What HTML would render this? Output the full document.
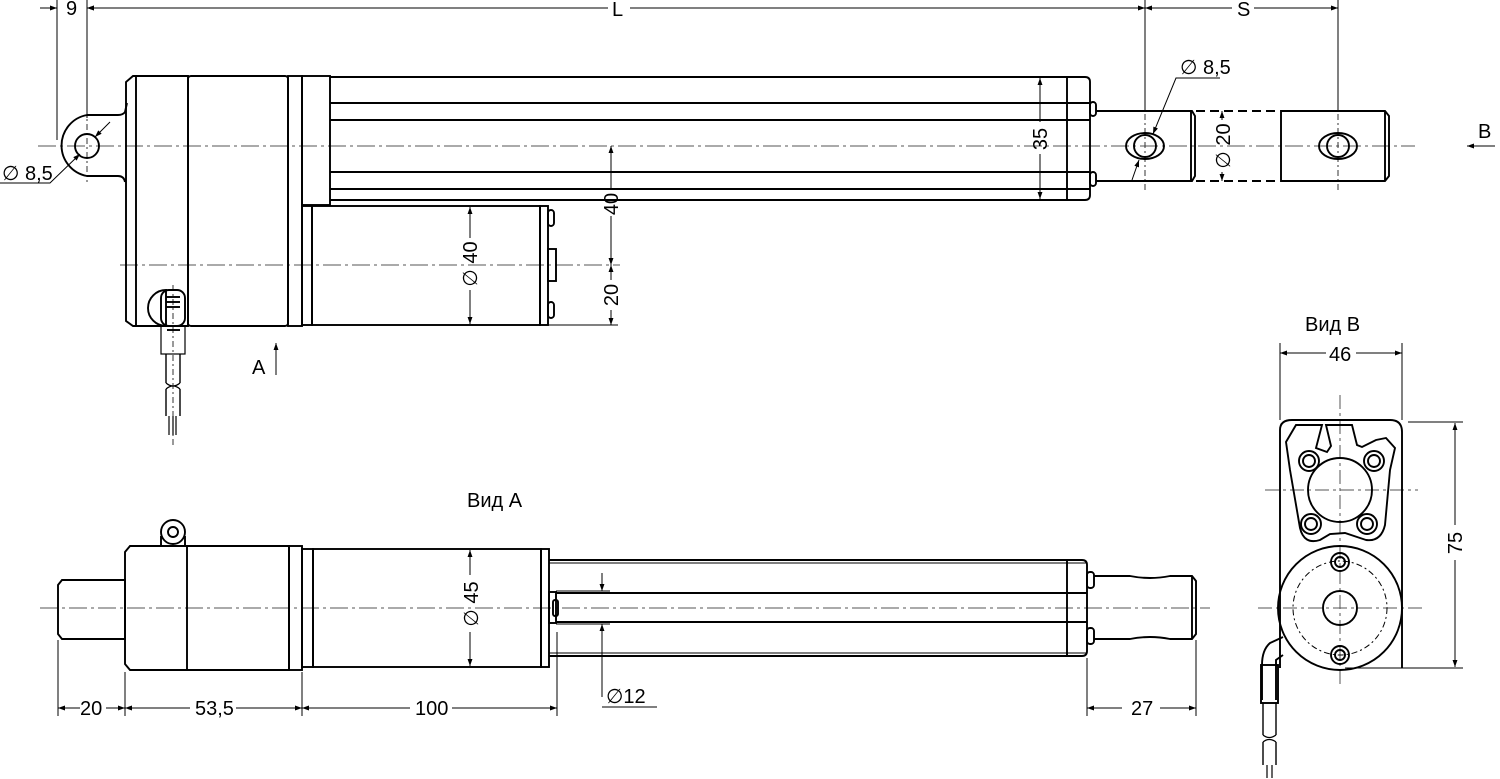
<!DOCTYPE html>
<html><head><meta charset="utf-8"><style>
html,body{margin:0;padding:0;background:#fff;}
svg{display:block;}
text{font-family:"Liberation Sans",sans-serif;font-size:20px;fill:#000;}
</style></head><body>
<svg width="1500" height="779" viewBox="0 0 1500 779" xmlns="http://www.w3.org/2000/svg">
<defs>
<marker id="a" viewBox="0 0 10 10" refX="10" refY="5" markerWidth="10" markerHeight="7" orient="auto-start-reverse" markerUnits="userSpaceOnUse"><path d="M0,1.5 L10,5 L0,8.5 z" fill="#000"/></marker>
</defs>
<g fill="none" stroke="#000" stroke-width="1.9">
<!-- ===== TOP VIEW ===== -->
<g stroke="#555" stroke-width="1" stroke-dasharray="18,4,3,4">
<line x1="38" y1="146" x2="1415" y2="146"/>
<line x1="120" y1="265" x2="620" y2="265"/>
</g>
<g stroke="#333" stroke-width="1" stroke-dasharray="6,3,2,3">
<line x1="87" y1="110" x2="87" y2="182"/>
<line x1="1145" y1="100" x2="1145" y2="190"/>
<line x1="1338" y1="100" x2="1338" y2="190"/>
<line x1="173" y1="285" x2="173" y2="445"/>
</g>
<path d="M127,103 L125,112 Q123,115 118,115 L87,115 A31,31 0 0 0 87,176 L118,176 Q124,176 125,182"/>
<circle cx="87" cy="146" r="12"/>
<path d="M133,76 L188,76 L188,326 L133,326 L126,321 L126,82 Z"/>
<line x1="136" y1="76" x2="136" y2="326"/>
<rect x="188" y="76" width="100" height="250" rx="3"/>
<rect x="288" y="76" width="14" height="250"/>
<rect x="302" y="76" width="28" height="129"/>
<path d="M330,77 L1085,77 Q1090,77 1090,82 L1090,195 Q1090,200 1085,200 L330,200"/>
<line x1="330" y1="103" x2="1090" y2="103"/>
<line x1="330" y1="120" x2="1090" y2="120"/>
<line x1="330" y1="172" x2="1090" y2="172"/>
<line x1="330" y1="189" x2="1090" y2="189"/>
<line x1="1067" y1="77" x2="1067" y2="200"/>
<rect x="1090" y="102" width="6" height="14" rx="3"/>
<rect x="1090" y="172" width="6" height="14" rx="3"/>
<path d="M1096,111 L1192,111 L1195,116 L1195,176 L1192,181 L1096,181"/>
<line x1="1191" y1="111" x2="1191" y2="181"/>
<ellipse cx="1145" cy="146" rx="19" ry="13"/>
<circle cx="1145" cy="146" r="11"/>
<path d="M1196,111 L1280,111 M1196,181 L1280,181" stroke-dasharray="9,5"/>
<path d="M1281,111 L1385,111 L1389,116 L1389,176 L1385,181 L1281,181 Z"/>
<line x1="1385" y1="111" x2="1385" y2="181"/>
<ellipse cx="1338" cy="146" rx="19" ry="13"/>
<circle cx="1338" cy="146" r="11"/>
<rect x="302" y="206" width="10" height="119"/>
<rect x="312" y="206" width="228" height="119"/>
<rect x="540" y="206" width="8" height="119"/>
<rect x="548" y="210" width="6" height="16" rx="3"/>
<rect x="548" y="249" width="8" height="32"/>
<rect x="548" y="302" width="6" height="16" rx="3"/>
<path d="M166,326 L166,290 A18,18 0 0 0 166,326"/>
<rect x="161" y="290" width="24" height="36" rx="8"/>
<line x1="166" y1="297" x2="180" y2="297"/><line x1="166" y1="302" x2="180" y2="302"/><line x1="166" y1="307" x2="180" y2="307"/>
<rect x="161" y="326" width="24" height="28" stroke-width="1.2"/>
<line x1="167" y1="330" x2="180" y2="330"/>
<path d="M166,354 L166,383 M180,354 L180,383 M166,389 L166,416 M180,389 L180,416" stroke-width="1.4"/>
<path d="M166,383 q7,6 14,0 M166,389 q7,-6 14,0" stroke-width="1.2"/>
<path d="M169,416 L169,435 M173,416 L173,435 M176,416 L176,435" stroke-width="1.2"/>
</g>
<g stroke="#000" stroke-width="1" fill="none">
<line x1="57" y1="0" x2="57" y2="140"/>
<line x1="87" y1="0" x2="87" y2="118"/>
<line x1="1145" y1="0" x2="1145" y2="112"/>
<line x1="1338" y1="0" x2="1338" y2="112"/>
<line x1="40" y1="8" x2="57" y2="8" marker-end="url(#a)"/>
<line x1="87" y1="8" x2="104" y2="8" marker-start="url(#a)"/>
<line x1="87" y1="8" x2="608" y2="8" marker-start="url(#a)"/>
<line x1="630" y1="8" x2="1145" y2="8" marker-end="url(#a)"/>
<line x1="1145" y1="8" x2="1232" y2="8" marker-start="url(#a)"/>
<line x1="1254" y1="8" x2="1338" y2="8" marker-end="url(#a)"/>
<path d="M0,183 L50,183 L80,154" marker-end="url(#a)"/>
<path d="M110,122 L95,137" marker-end="url(#a)"/>
<path d="M1220,78 L1176,78 L1153,134" marker-end="url(#a)"/>
<path d="M1132,180 L1139,160" marker-end="url(#a)"/>
<line x1="1222" y1="111" x2="1222" y2="120" marker-start="url(#a)"/>
<line x1="1222" y1="172" x2="1222" y2="181" marker-end="url(#a)"/>
<line x1="1040" y1="78" x2="1040" y2="122" marker-start="url(#a)"/>
<line x1="1040" y1="154" x2="1040" y2="199" marker-end="url(#a)"/>
<line x1="611" y1="146" x2="611" y2="190" marker-start="url(#a)"/>
<line x1="611" y1="216" x2="611" y2="265" marker-end="url(#a)"/>
<line x1="611" y1="265" x2="611" y2="280" marker-start="url(#a)"/>
<line x1="611" y1="310" x2="611" y2="325" marker-end="url(#a)"/>
<line x1="548" y1="325" x2="618" y2="325"/>
<line x1="470" y1="207" x2="470" y2="238" marker-start="url(#a)"/>
<line x1="470" y1="290" x2="470" y2="324" marker-end="url(#a)"/>
<line x1="276" y1="375" x2="276" y2="343" marker-end="url(#a)"/>
<line x1="1495" y1="146" x2="1467" y2="146" marker-end="url(#a)"/>
</g>
<text x="66" y="15" font-size="18">9</text>
<text x="612" y="16">L</text>
<text x="1237" y="16">S</text>
<text x="2" y="180">∅ 8,5</text>
<text x="1180" y="74">∅ 8,5</text>
<text x="1478" y="138" font-size="21">B</text>
<text x="252" y="374" font-size="21">A</text>
<text transform="translate(1230,146) rotate(-90)" text-anchor="middle">∅ 20</text>
<text transform="translate(1047,139) rotate(-90)" text-anchor="middle">35</text>
<text transform="translate(618,204) rotate(-90)" text-anchor="middle">40</text>
<text transform="translate(618,295) rotate(-90)" text-anchor="middle">20</text>
<text transform="translate(477,264) rotate(-90)" text-anchor="middle">∅ 40</text>

<text x="467" y="507" font-size="21">Вид А</text>
<g fill="none" stroke="#000" stroke-width="1.9">
<g stroke="#555" stroke-width="1" stroke-dasharray="18,4,3,4"><line x1="40" y1="608" x2="1210" y2="608"/></g>
<path d="M62,580 L125,580 L125,639 L62,639 L58,634 L58,585 Z"/>
<path d="M130,546 L289,546 L289,670 L130,670 L125,664 L125,552 Z"/>
<line x1="187" y1="546" x2="187" y2="670"/>
<rect x="289" y="546" width="13" height="124"/>
<rect x="302" y="549" width="11" height="118"/>
<rect x="313" y="549" width="228" height="118"/>
<rect x="541" y="549" width="8" height="118"/>
<circle cx="173" cy="532" r="12"/><circle cx="173" cy="532" r="5"/>
<path d="M161,536 L161,546 M185,536 L185,546"/>
<path d="M549,560 L1082,560 Q1087,560 1087,565 L1087,651 Q1087,656 1082,656 L549,656"/>
<line x1="549" y1="563" x2="1087" y2="563" stroke-width="1"/>
<line x1="549" y1="653" x2="1087" y2="653" stroke-width="1"/>
<line x1="556" y1="593" x2="1087" y2="593"/>
<line x1="556" y1="622" x2="1087" y2="622"/>
<line x1="1067" y1="560" x2="1067" y2="656"/>
<rect x="549" y="592" width="7" height="31"/>
<rect x="553" y="600" width="5" height="16" rx="2"/>
<rect x="1087" y="572" width="7" height="16" rx="3"/>
<rect x="1087" y="628" width="7" height="16" rx="3"/>
<path d="M1094,576 L1130,576 Q1150,580 1170,576 L1192,576 L1196,581 L1196,634 L1192,639 L1170,639 Q1150,635 1130,639 L1094,639"/>
<line x1="1192" y1="576" x2="1192" y2="639"/>
</g>
<g stroke="#000" stroke-width="1" fill="none">
<line x1="58" y1="640" x2="58" y2="716"/>
<line x1="125" y1="672" x2="125" y2="716"/>
<line x1="302" y1="672" x2="302" y2="716"/>
<line x1="557" y1="632" x2="557" y2="716"/>
<line x1="1087" y1="658" x2="1087" y2="716"/>
<line x1="1196" y1="640" x2="1196" y2="716"/>
<line x1="58" y1="708" x2="80" y2="708" marker-start="url(#a)"/>
<line x1="106" y1="708" x2="125" y2="708" marker-end="url(#a)"/>
<line x1="125" y1="708" x2="190" y2="708" marker-start="url(#a)"/>
<line x1="236" y1="708" x2="302" y2="708" marker-end="url(#a)"/>
<line x1="302" y1="708" x2="410" y2="708" marker-start="url(#a)"/>
<line x1="452" y1="708" x2="557" y2="708" marker-end="url(#a)"/>
<line x1="1087" y1="708" x2="1122" y2="708" marker-start="url(#a)"/>
<line x1="1160" y1="708" x2="1196" y2="708" marker-end="url(#a)"/>
<line x1="470" y1="550" x2="470" y2="575" marker-start="url(#a)"/>
<line x1="470" y1="632" x2="470" y2="666" marker-end="url(#a)"/>
<line x1="556" y1="591" x2="610" y2="591"/>
<line x1="556" y1="624" x2="610" y2="624"/>
<line x1="602" y1="573" x2="602" y2="591" marker-end="url(#a)"/>
<path d="M602,697 L602,624" marker-end="url(#a)"/>
<line x1="602" y1="707" x2="657" y2="707"/>
</g>
<text x="80" y="715">20</text>
<text x="195" y="715">53,5</text>
<text x="415" y="715">100</text>
<text x="1131" y="715">27</text>
<text x="606" y="703" font-size="18">∅12</text>
<text transform="translate(478,604) rotate(-90)" text-anchor="middle">∅ 45</text>

<text x="1305" y="331" font-size="21">Вид B</text>
<g fill="none" stroke="#000" stroke-width="1.9">
<g stroke="#555" stroke-width="1" stroke-dasharray="14,4,3,4">
<line x1="1265" y1="490" x2="1418" y2="490"/>
<line x1="1258" y1="608" x2="1425" y2="608"/>
<line x1="1340" y1="395" x2="1340" y2="685"/>
</g>
<path d="M1280,668 L1280,430 Q1280,420 1292,420 L1390,420 Q1402,420 1402,432 L1402,668"/>
<path d="M1296,425 L1322,425 L1316,448 L1327,452 L1331,446 L1326,425 L1352,425 L1357,445 L1362,447 L1376,440 L1386,438 L1395,448 L1390,470 L1385,525 Q1381,542 1366,540 L1345,533 L1330,534 L1320,540 Q1304,545 1300,528 L1290,470 L1286,442 Z"/>
<circle cx="1340" cy="490" r="32"/>
<circle cx="1309" cy="461" r="10"/><circle cx="1309" cy="461" r="6"/>
<circle cx="1374" cy="461" r="10"/><circle cx="1374" cy="461" r="6"/>
<circle cx="1311" cy="524" r="10"/><circle cx="1311" cy="524" r="6"/>
<circle cx="1367" cy="524" r="10"/><circle cx="1367" cy="524" r="6"/>
<circle cx="1340" cy="608" r="62"/>
<circle cx="1340" cy="608" r="47" stroke-width="1" stroke-dasharray="6,3,2,3"/>
<circle cx="1340" cy="608" r="17"/>
<circle cx="1340" cy="562" r="9"/><circle cx="1340" cy="562" r="5"/>
<circle cx="1340" cy="655" r="9"/><circle cx="1340" cy="655" r="5"/>
<path d="M1283,637 L1270,643 Q1262,650 1262,665 L1262,700 M1283,655 L1276,660 L1276,700"/>
<rect x="1261" y="665" width="17" height="38"/>
<path d="M1263,703 L1263,735 M1276,703 L1276,735 M1263,742 L1263,765 M1276,742 L1276,765" stroke-width="1.4"/>
<path d="M1263,735 q6,5 13,0 M1263,742 q6,-5 13,0" stroke-width="1.2"/>
<path d="M1267,765 L1267,778 M1272,765 L1272,778" stroke-width="1.2"/>
</g>
<g stroke="#000" stroke-width="1" fill="none">
<line x1="1280" y1="343" x2="1280" y2="420"/>
<line x1="1402" y1="343" x2="1402" y2="420"/>
<line x1="1280" y1="353" x2="1326" y2="353" marker-start="url(#a)"/>
<line x1="1356" y1="353" x2="1402" y2="353" marker-end="url(#a)"/>
<line x1="1408" y1="422" x2="1463" y2="422"/>
<line x1="1345" y1="668" x2="1463" y2="668"/>
<line x1="1455" y1="423" x2="1455" y2="525" marker-start="url(#a)"/>
<line x1="1455" y1="560" x2="1455" y2="667" marker-end="url(#a)"/>
</g>
<text x="1329" y="361" font-size="19">46</text>
<text transform="translate(1462,543) rotate(-90)" text-anchor="middle">75</text>
</svg>
</body></html>
